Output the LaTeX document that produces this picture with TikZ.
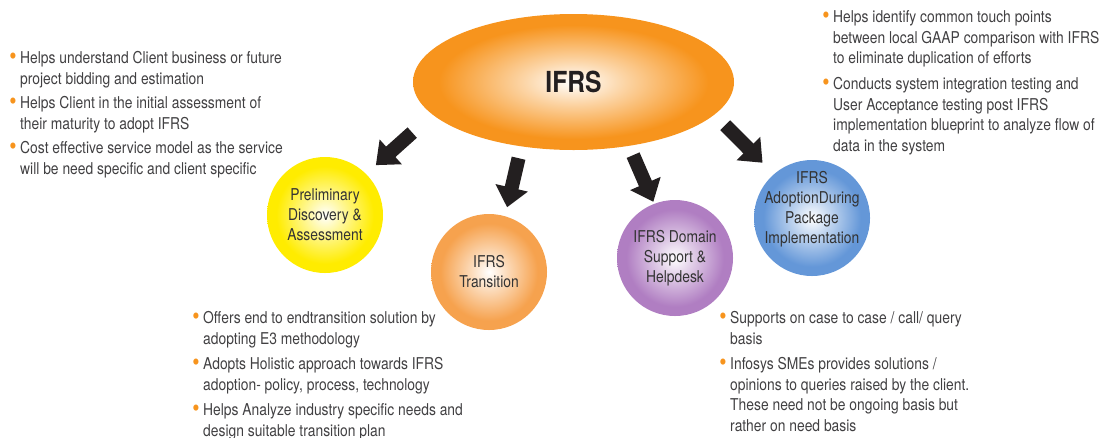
\documentclass[tikz,border=0pt]{standalone}
\usepackage{fontspec}
\usepackage{graphicx}
\setmainfont{TeX Gyre Heros}[FakeStretch=0.85]
\usetikzlibrary{shapes.geometric}
\usetikzlibrary{arrows.meta}

\definecolor{ifrsorange}{HTML}{F7941D}
\definecolor{prelimyellow}{HTML}{FFEC00}
\definecolor{transorange}{HTML}{F6A24E}
\definecolor{supportpurple}{HTML}{B07EC2}
\definecolor{adoptblue}{HTML}{6497D8}
\definecolor{bodytext}{HTML}{414042}
\definecolor{circtext}{HTML}{333333}
\definecolor{arrowblack}{HTML}{231F20}

\pgfdeclareradialshading[glowcol]{glow}{\pgfpoint{0bp}{0bp}}{color(0bp)=(white); color(8bp)=(glowcol!40!white); color(21bp)=(glowcol); color(50bp)=(glowcol)}

\newcommand{\bul}{\llap{\textcolor{ifrsorange}{\raisebox{-1pt}{\scalebox{1.5}{\textbullet}}}\hspace{3.5pt}}}

\begin{document}
\begin{tikzpicture}
[x=1pt, y=-1pt,
 hub/.style={shape=ellipse, minimum width=321pt, minimum height=136pt, inner sep=0pt},
 bubble/.style={shape=circle, minimum size=116pt, inner sep=0pt},
 shine/.style={shading=glow, /utils/exec={\colorlet{glowcol}{#1}}},
 bubtext/.style={align=center, text=circtext, font=\fontsize{16.3}{20}\selectfont},
 points/.style={anchor=north west, align=left, inner sep=0pt, text=bodytext,
   font=\fontsize{16.3}{20.5}\selectfont},
 bigarrow/.style={line width=14pt, draw=arrowblack, -{Triangle[width=32pt,length=20pt]}}]

\useasboundingbox (0,0) rectangle (1102,437);

% centre and the four services
\node (ifrs) [hub,shine=ifrsorange,font=\bfseries\fontsize{29}{29}\selectfont,text=arrowblack] at (573.5,82) {IFRS};

\node (prelim) [bubble,shine=prelimyellow] at (325,215) {};
\node (trans) [bubble,shine=transorange] at (489,272) {};
\node (support) [bubble,shine=supportpurple] at (675,258) {};
\node (adopt) [bubble,shine=adoptblue] at (812,218) {};

\node (prelimtext) [bubtext] at (prelim) {Preliminary\\Discovery \&\\Assessment};
\node (transtext) [bubtext] at (trans) {IFRS\\Transition};
\node (supporttext) [bubtext] at (support) {IFRS Domain\\Support \&\\Helpdesk};
\node (adopttext) [bubtext] at ([yshift=9pt]adopt.center) {IFRS\\AdoptionDuring\\Package\\Implementation};

% arrows
\draw [bigarrow,shorten <=27pt,shorten >=13pt] (ifrs.193) -- (prelim.45);
\draw [bigarrow,shorten <=12pt,shorten >=9pt] (ifrs.231) -- (trans.74);
\draw [bigarrow,shorten <=10pt,shorten >=2pt] (ifrs.311) -- (support.111);
\draw [bigarrow,shorten <=15pt,shorten >=16pt] (ifrs.347) -- (adopt.131);

% bullet points
\node (p1) [points] at (20,51.5) {\bul Helps understand Client business or future\\project bidding and estimation};
\node (p2) [points] at (20,96.5) {\bul Helps Client in the initial assessment of\\their maturity to adopt IFRS};
\node (p3) [points] at (20,141.5) {\bul Cost effective service model as the service\\will be need specific and client specific};

\node (a1) [points] at (833,10.5) {\bul Helps identify common touch points\\between local GAAP comparison with IFRS\\to eliminate duplication of efforts};
\node (a2) [points] at (833,77.5) {\bul Conducts system integration testing and\\User Acceptance testing post IFRS\\implementation blueprint to analyze flow of\\data in the system};

\node (t1) [points] at (203,311.5) {\bul Offers end to endtransition solution by\\adopting E3 methodology};
\node (t2) [points] at (203,357.5) {\bul Adopts Holistic approach towards IFRS\\adoption- policy, process, technology};
\node (t3) [points] at (203,403.5) {\bul Helps Analyze industry specific needs and\\design suitable transition plan};

\node (s1) [points] at (730,311.5) {\bul Supports on case to case / call/ query\\basis};
\node (s2) [points] at (730,357.5) {\bul Infosys SMEs provides solutions /\\opinions to queries raised by the client.\\These need not be ongoing basis but\\rather on need basis};

\end{tikzpicture}
\end{document}
